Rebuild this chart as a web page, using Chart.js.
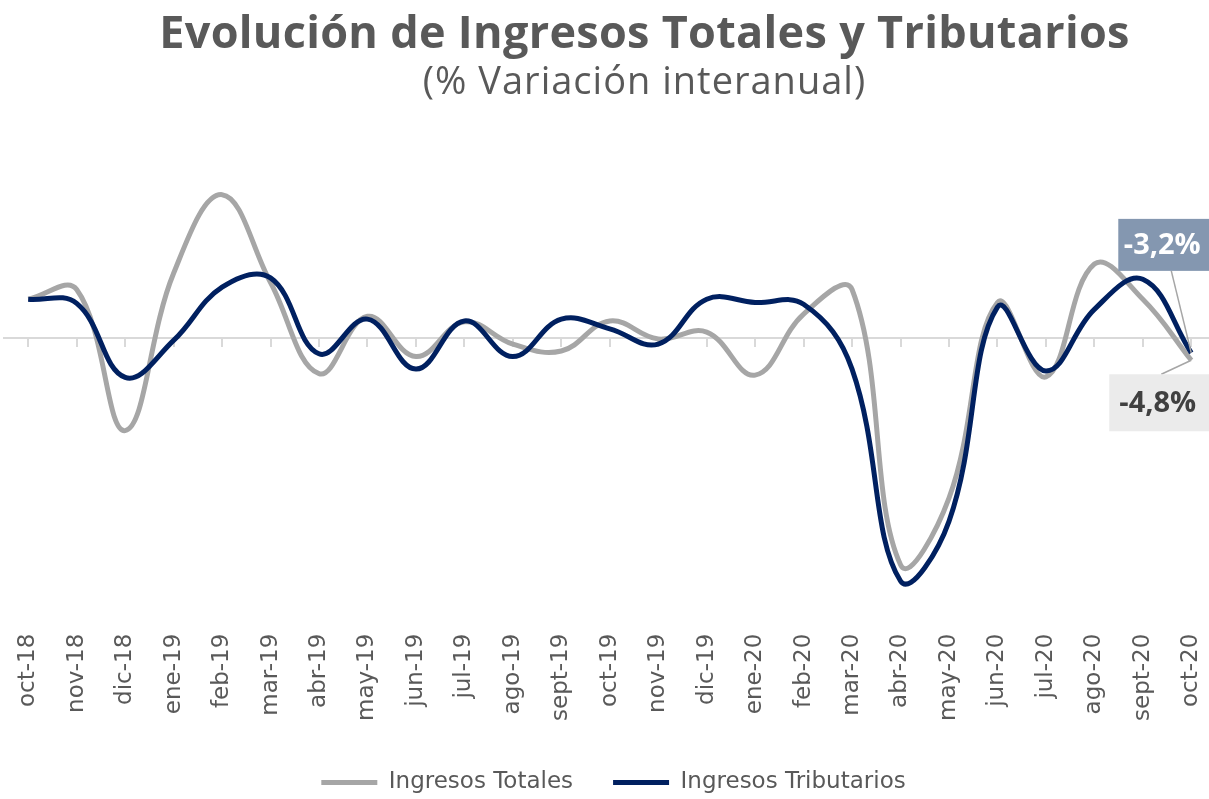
<!DOCTYPE html>
<html>
<head>
<meta charset="utf-8">
<script src="https://cdn.jsdelivr.net/npm/chart.js@4.4.0/dist/chart.umd.min.js"></script>
<style>
  body { margin: 0; background: #fff; }
  #wrap { position: relative; width: 1209px; height: 799px; overflow: hidden; }
  #title { position: absolute; top: 3px; left: 40px; width: 1209px; text-align: center; color: #595959; font-family: "Open Sans", sans-serif; }
  #title .t1 { font-size: 45px; font-weight: 700; line-height: 56px; letter-spacing: 0.3px; }
  #title .t2 { font-size: 38px; font-weight: 400; line-height: 40px; letter-spacing: 1px; }
  canvas { position: absolute; top: 0; left: 0; }
</style>
</head>
<body>
<div id="wrap">
  <canvas id="chart" width="1229" height="799"></canvas>
  <div id="title">
    <div class="t1">Evolución de Ingresos Totales y Tributarios</div>
    <div class="t2">(% Variación interanual)</div>
  </div>
</div>
<script>
const months = ['oct-18','nov-18','dic-18','ene-19','feb-19','mar-19','abr-19','may-19','jun-19','jul-19','ago-19','sept-19',
  'oct-19','nov-19','dic-19','ene-20','feb-20','mar-20','abr-20','may-20','jun-20','jul-20','ago-20','sept-20','oct-20'];

const totales = [8.4, 10.5, -20, 14, 31, 12, -7.7, 4.7, -4, 3.5, -1.3, -2.8,
  3.7, -0.2, 1.3, -8, 5.2, 10.5, -49, -34.6, 7.7, -8.4, 16, 8.4, -4.8];

const tributarios = [8.4, 7.5, -8.5, -0.5, 11, 13, -3.4, 4.1, -6.7, 3.7, -4, 4.1,
  2, -1.3, 8.4, 7.7, 7.3, -6.7, -52.5, -39.6, 6.7, -7.1, 6.2, 12.7, -3.2];

const gray = '#a6a6a6';
const navy = '#002060';
const font = '"DejaVu Sans", sans-serif';

function fmt(v) {
  return (v < 0 ? '-' : '') + Math.abs(v).toFixed(1).replace('.', ',') + '%';
}

// callout boxes on the last point of each line
const callouts = {
  id: 'callouts',
  afterDatasetsDraw(chart) {
    const ctx = chart.ctx;
    const boxes = [
      { ds: 1, fill: '#8497b0', color: '#ffffff', dx: -73, dy: -134, w: 96, h: 52, lx: -20, ly: -82 },
      { ds: 0, fill: '#ebebeb', color: '#404040', dx: -82, dy: 14, w: 105, h: 57, lx: -30, ly: 14 }
    ];
    boxes.forEach(b => {
      const meta = chart.getDatasetMeta(b.ds);
      const pt = meta.data[meta.data.length - 1];
      const data = chart.data.datasets[b.ds].data;
      const txt = fmt(data[data.length - 1]);
      ctx.save();
      ctx.strokeStyle = gray;
      ctx.lineWidth = 1.5;
      ctx.beginPath();
      ctx.moveTo(pt.x + b.lx, pt.y + b.ly);
      ctx.lineTo(pt.x, pt.y);
      ctx.stroke();
      ctx.fillStyle = b.fill;
      ctx.fillRect(pt.x + b.dx, pt.y + b.dy, b.w, b.h);
      ctx.fillStyle = b.color;
      ctx.font = 'bold 29px "Open Sans", sans-serif';
      ctx.textAlign = 'center';
      ctx.textBaseline = 'middle';
      ctx.fillText(txt, pt.x + b.dx + b.w / 2 - 4, pt.y + b.dy + b.h / 2 + 1);
      ctx.restore();
    });
  }
};

new Chart(document.getElementById('chart'), {
  type: 'line',
  data: {
    labels: months,
    datasets: [
      {
        label: 'Ingresos Totales',
        data: totales,
        borderColor: gray,
        backgroundColor: gray,
        borderWidth: 5,
        tension: 0.4,
        pointRadius: 0,
        pointStyle: 'line',
        order: 1
      },
      {
        label: 'Ingresos Tributarios',
        data: tributarios,
        borderColor: navy,
        backgroundColor: navy,
        borderWidth: 5,
        tension: 0.4,
        pointRadius: 0,
        pointStyle: 'line',
        order: 0
      }
    ]
  },
  options: {
    responsive: false,
    animation: false,
    devicePixelRatio: 1,
    layout: { padding: { top: 153, left: 4, right: 6, bottom: -5 } },
    plugins: {
      title: { display: false },
      tooltip: { enabled: false },
      legend: {
        position: 'bottom',
        labels: {
          usePointStyle: true,
          pointStyleWidth: 56,
          padding: 40,
          color: '#595959',
          font: { family: font, size: 23 },
          sort: (a, b) => a.datasetIndex - b.datasetIndex
        }
      }
    },
    scales: {
      y: { display: false, min: -60, max: 40 },
      x: {
        position: { y: 0 },
        offset: true,
        ticks: { display: false },
        border: { display: true, color: '#d9d9d9', width: 2 },
        grid: { drawOnChartArea: false, tickLength: 8, color: '#d9d9d9', lineWidth: 2 }
      },
      x2: {
        position: 'bottom',
        offset: true,
        border: { display: false },
        grid: { display: false },
        ticks: {
          minRotation: 90,
          maxRotation: 90,
          autoSkip: false,
          padding: 10,
          color: '#595959',
          font: { family: font, size: 23 }
        }
      }
    }
  },
  plugins: [callouts]
});
</script>
</body>
</html>
